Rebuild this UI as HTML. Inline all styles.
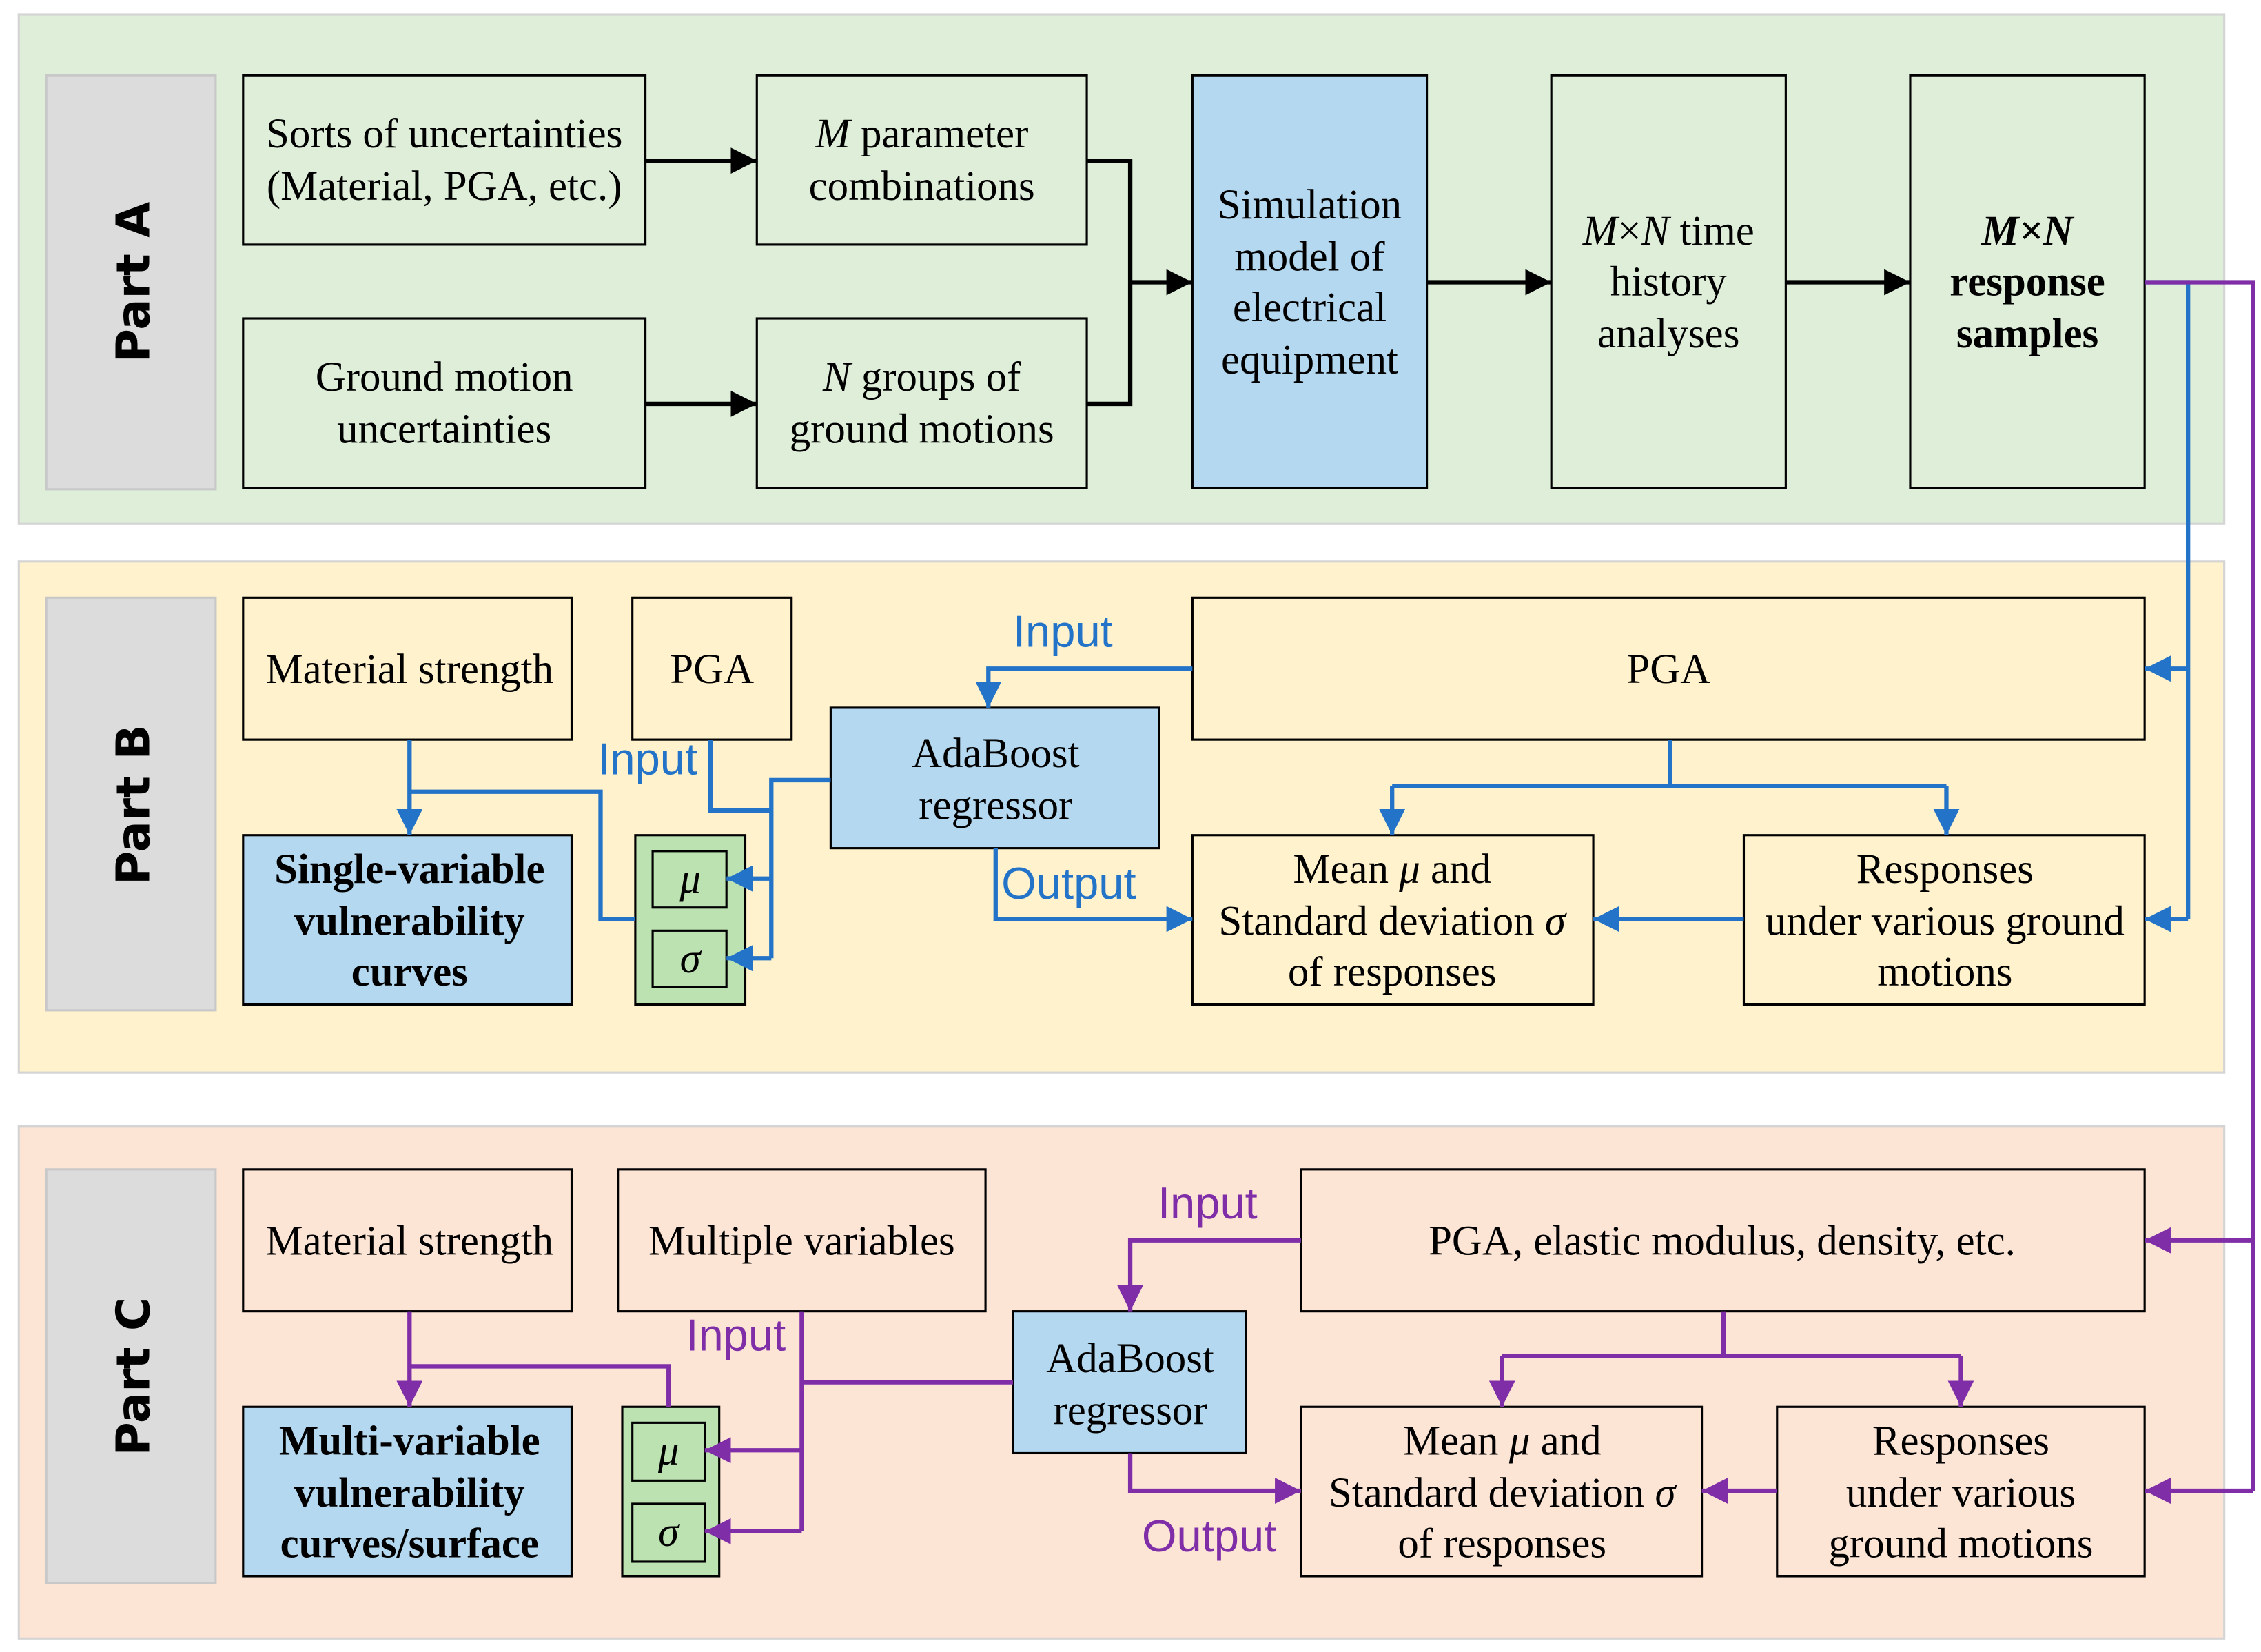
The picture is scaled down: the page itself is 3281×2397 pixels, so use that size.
<!DOCTYPE html>
<html><head><meta charset="utf-8"><style>
html,body{margin:0;padding:0;background:#fff;}
svg{display:block;}
.t{font-family:"Liberation Serif",serif;font-size:29px;fill:#000;text-anchor:middle;}
.b{font-weight:bold;}
.p{font-family:"DejaVu Sans","Liberation Sans",sans-serif;font-weight:bold;font-size:32px;fill:#000;text-anchor:middle;}
.lb{font-family:"Liberation Sans",sans-serif;font-size:31px;fill:#2373c8;}
.lp{font-family:"Liberation Sans",sans-serif;font-size:31px;fill:#7f2ea8;}
</style></head><body>
<svg width="3281" height="2397" viewBox="0 0 1562.4 1141.4" preserveAspectRatio="none" xmlns="http://www.w3.org/2000/svg">
<defs>
<marker id="ak" markerWidth="20" markerHeight="18" refX="18" refY="9" orient="auto" markerUnits="userSpaceOnUse"><path d="M0,0 L18,9 L0,18 z" fill="#000"/></marker>
<marker id="ab" markerWidth="20" markerHeight="18" refX="18" refY="9" orient="auto" markerUnits="userSpaceOnUse"><path d="M0,0 L18,9 L0,18 z" fill="#2373c8"/></marker>
<marker id="ap" markerWidth="20" markerHeight="18" refX="18" refY="9" orient="auto" markerUnits="userSpaceOnUse"><path d="M0,0 L18,9 L0,18 z" fill="#7f2ea8"/></marker>
</defs>
<rect x="13" y="10" width="1524" height="352" fill="#deeed9" stroke="#d4d4d4" stroke-width="1.5"/>
<rect x="13" y="388" width="1524" height="353" fill="#fff2cc" stroke="#d4d4d4" stroke-width="1.5"/>
<rect x="13" y="778" width="1524" height="354" fill="#fde5d6" stroke="#d4d4d4" stroke-width="1.5"/>
<g fill="#dcdcdc" stroke="#c8c8c8" stroke-width="1.5">
<rect x="32" y="52" width="117" height="286"/>
<rect x="32" y="413" width="117" height="285"/>
<rect x="32" y="808" width="117" height="286"/>
</g>
<text class="p" transform="translate(103,195) rotate(-90)">Part A</text>
<text class="p" transform="translate(103,556) rotate(-90)">Part B</text>
<text class="p" transform="translate(103,951) rotate(-90)">Part C</text>

<g stroke="#000" stroke-width="1.5">
<rect x="168" y="52" width="278" height="117" fill="#deeed9"/>
<rect x="523" y="52" width="228" height="117" fill="#deeed9"/>
<rect x="168" y="220" width="278" height="117" fill="#deeed9"/>
<rect x="523" y="220" width="228" height="117" fill="#deeed9"/>
<rect x="824" y="52" width="162" height="285" fill="#b4d8ef"/>
<rect x="1072" y="52" width="162" height="285" fill="#deeed9"/>
<rect x="1320" y="52" width="162" height="285" fill="#deeed9"/>
</g>
<text class="t" x="307" y="102">Sorts of uncertainties</text>
<text class="t" x="307" y="138">(Material, PGA, etc.)</text>
<text class="t" x="637" y="102"><tspan font-style="italic">M</tspan> parameter</text>
<text class="t" x="637" y="138">combinations</text>
<text class="t" x="307" y="270">Ground motion</text>
<text class="t" x="307" y="306">uncertainties</text>
<text class="t" x="637" y="270"><tspan font-style="italic">N</tspan> groups of</text>
<text class="t" x="637" y="306">ground motions</text>
<text class="t" x="905" y="151">Simulation</text>
<text class="t" x="905" y="187">model of</text>
<text class="t" x="905" y="222">electrical</text>
<text class="t" x="905" y="258">equipment</text>
<text class="t" x="1153" y="169"><tspan font-style="italic">M</tspan>×<tspan font-style="italic">N</tspan> time</text>
<text class="t" x="1153" y="204">history</text>
<text class="t" x="1153" y="240">analyses</text>
<text class="t b" x="1401" y="169" font-style="italic">M×N</text>
<text class="t b" x="1401" y="204">response</text>
<text class="t b" x="1401" y="240">samples</text>
<g stroke="#000" stroke-width="3" fill="none">
<line x1="446" y1="111" x2="523" y2="111" marker-end="url(#ak)"/>
<line x1="446" y1="279" x2="523" y2="279" marker-end="url(#ak)"/>
<polyline points="751,111 781,111 781,279 751,279"/>
<line x1="781" y1="195" x2="824" y2="195" marker-end="url(#ak)"/>
<line x1="986" y1="195" x2="1072" y2="195" marker-end="url(#ak)"/>
<line x1="1234" y1="195" x2="1320" y2="195" marker-end="url(#ak)"/>
</g>

<g stroke="#000" stroke-width="1.5">
<rect x="168" y="413" width="227" height="98" fill="#fff2cc"/>
<rect x="437" y="413" width="110" height="98" fill="#fff2cc"/>
<rect x="824" y="413" width="658" height="98" fill="#fff2cc"/>
<rect x="574" y="489" width="227" height="97" fill="#b4d8ef"/>
<rect x="168" y="577" width="227" height="117" fill="#b4d8ef"/>
<rect x="439" y="577" width="76" height="117" fill="#bde2b2"/>
<rect x="451" y="588" width="51" height="39" fill="#bde2b2"/>
<rect x="451" y="643" width="51" height="39" fill="#bde2b2"/>
<rect x="824" y="577" width="277" height="117" fill="#fff2cc"/>
<rect x="1205" y="577" width="277" height="117" fill="#fff2cc"/>
</g>
<text class="t" x="283" y="472">Material strength</text>
<text class="t" x="492" y="472">PGA</text>
<text class="t" x="1153" y="472">PGA</text>
<text class="t" x="688" y="530">AdaBoost</text>
<text class="t" x="688" y="566">regressor</text>
<text class="t b" x="283" y="610">Single-variable</text>
<text class="t b" x="283" y="646">vulnerability</text>
<text class="t b" x="283" y="681">curves</text>
<text class="t" x="477" y="617" font-style="italic">μ</text>
<text class="t" x="477" y="672" font-style="italic">σ</text>
<text class="t" x="962" y="610">Mean <tspan font-style="italic">μ</tspan> and</text>
<text class="t" x="962" y="646">Standard deviation <tspan font-style="italic">σ</tspan></text>
<text class="t" x="962" y="681">of responses</text>
<text class="t" x="1344" y="610">Responses</text>
<text class="t" x="1344" y="646">under various ground</text>
<text class="t" x="1344" y="681">motions</text>
<text class="lb" x="700" y="447">Input</text>
<text class="lb" x="413" y="535">Input</text>
<text class="lb" x="692" y="621">Output</text>
<g stroke="#2373c8" stroke-width="3" fill="none">
<polyline points="1482,195 1512,195 1512,635"/>
<line x1="1512" y1="462" x2="1482" y2="462" marker-end="url(#ab)"/>
<line x1="1512" y1="635" x2="1482" y2="635" marker-end="url(#ab)"/>
<polyline points="824,462 683,462 683,489" marker-end="url(#ab)"/>
<line x1="283" y1="511" x2="283" y2="577" marker-end="url(#ab)"/>
<polyline points="283,547 415,547 415,635 439,635"/>
<polyline points="491,511 491,560 533,560"/>
<polyline points="574,539 533,539 533,662"/>
<line x1="533" y1="607" x2="502" y2="607" marker-end="url(#ab)"/>
<line x1="533" y1="662" x2="502" y2="662" marker-end="url(#ab)"/>
<polyline points="688,586 688,635 824,635" marker-end="url(#ab)"/>
<polyline points="962,543 1345,543"/>
<line x1="1154" y1="511" x2="1154" y2="543"/>
<line x1="962" y1="543" x2="962" y2="577" marker-end="url(#ab)"/>
<line x1="1345" y1="543" x2="1345" y2="577" marker-end="url(#ab)"/>
<line x1="1205" y1="635" x2="1101" y2="635" marker-end="url(#ab)"/>
</g>

<g stroke="#000" stroke-width="1.5">
<rect x="168" y="808" width="227" height="98" fill="#fde5d6"/>
<rect x="427" y="808" width="254" height="98" fill="#fde5d6"/>
<rect x="899" y="808" width="583" height="98" fill="#fde5d6"/>
<rect x="700" y="906" width="161" height="98" fill="#b4d8ef"/>
<rect x="168" y="972" width="227" height="117" fill="#b4d8ef"/>
<rect x="430" y="972" width="67" height="117" fill="#bde2b2"/>
<rect x="437" y="983" width="50" height="40" fill="#bde2b2"/>
<rect x="437" y="1039" width="50" height="40" fill="#bde2b2"/>
<rect x="899" y="972" width="277" height="117" fill="#fde5d6"/>
<rect x="1228" y="972" width="254" height="117" fill="#fde5d6"/>
</g>
<text class="t" x="283" y="867">Material strength</text>
<text class="t" x="554" y="867">Multiple variables</text>
<text class="t" x="1190" y="867">PGA, elastic modulus, density, etc.</text>
<text class="t" x="781" y="948">AdaBoost</text>
<text class="t" x="781" y="984">regressor</text>
<text class="t b" x="283" y="1005">Multi-variable</text>
<text class="t b" x="283" y="1041">vulnerability</text>
<text class="t b" x="283" y="1076">curves/surface</text>
<text class="t" x="462" y="1012" font-style="italic">μ</text>
<text class="t" x="462" y="1068" font-style="italic">σ</text>
<text class="t" x="1038" y="1005">Mean <tspan font-style="italic">μ</tspan> and</text>
<text class="t" x="1038" y="1041">Standard deviation <tspan font-style="italic">σ</tspan></text>
<text class="t" x="1038" y="1076">of responses</text>
<text class="t" x="1355" y="1005">Responses</text>
<text class="t" x="1355" y="1041">under various</text>
<text class="t" x="1355" y="1076">ground motions</text>
<text class="lp" x="800" y="842">Input</text>
<text class="lp" x="474" y="933">Input</text>
<text class="lp" x="789" y="1072">Output</text>
<g stroke="#7f2ea8" stroke-width="3" fill="none">
<polyline points="1482,195 1557,195 1557,1030"/>
<line x1="1557" y1="857" x2="1482" y2="857" marker-end="url(#ap)"/>
<line x1="1557" y1="1030" x2="1482" y2="1030" marker-end="url(#ap)"/>
<polyline points="899,857 781,857 781,906" marker-end="url(#ap)"/>
<line x1="283" y1="906" x2="283" y2="972" marker-end="url(#ap)"/>
<polyline points="283,944 462,944 462,972"/>
<line x1="554" y1="906" x2="554" y2="1058"/>
<line x1="700" y1="955" x2="554" y2="955"/>
<line x1="554" y1="1002" x2="487" y2="1002" marker-end="url(#ap)"/>
<line x1="554" y1="1058" x2="487" y2="1058" marker-end="url(#ap)"/>
<polyline points="781,1004 781,1030 899,1030" marker-end="url(#ap)"/>
<line x1="1191" y1="906" x2="1191" y2="937"/>
<polyline points="1038,937 1355,937"/>
<line x1="1038" y1="937" x2="1038" y2="972" marker-end="url(#ap)"/>
<line x1="1355" y1="937" x2="1355" y2="972" marker-end="url(#ap)"/>
<line x1="1228" y1="1030" x2="1176" y2="1030" marker-end="url(#ap)"/>
</g>
</svg>
</body></html>
